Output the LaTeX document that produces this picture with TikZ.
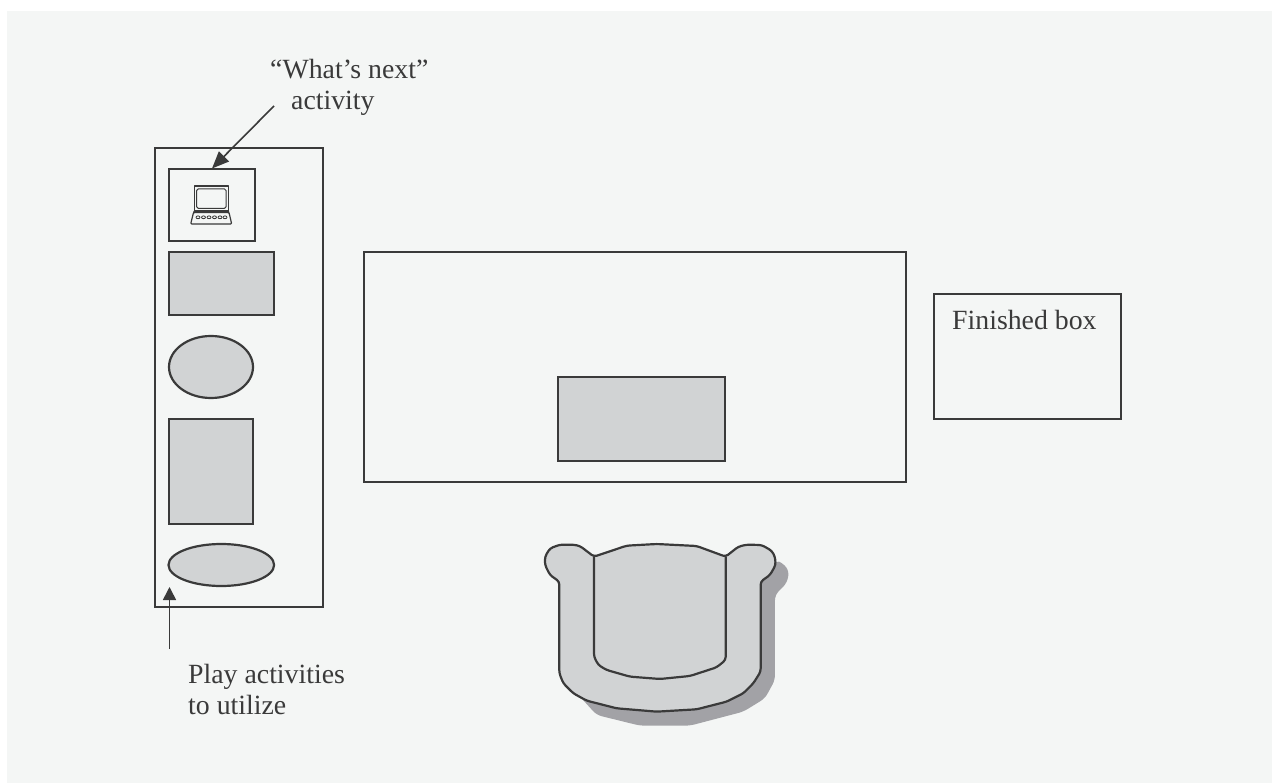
\documentclass[tikz,border=0pt]{standalone}
\usepackage{fontspec}
\setmainfont{Liberation Serif}
\usetikzlibrary{arrows.meta}
\definecolor{panel}{HTML}{F4F6F5}
\definecolor{fillgrey}{HTML}{D1D3D4}
\definecolor{shadowgrey}{HTML}{A2A2A6}
\definecolor{ink}{HTML}{3A3A3A}
\tikzset{
  outline/.style={draw=ink,line width=2.2pt,outer sep=0pt,inner sep=0pt,anchor=north west},
  solidshape/.style={outline,fill=fillgrey},
  solidround/.style={draw=ink,line width=2.2pt,fill=fillgrey},
  label/.style={font=\fontsize{27.8}{31.5}\selectfont,text=ink,inner sep=0pt,align=left},
  pointer/.style={draw=ink,line width=1.6pt},
  icon/.style={draw=ink,line width=1pt,line join=round}
}
\begin{document}
\begin{tikzpicture}[x=1pt,y=-1pt]
\useasboundingbox (0,0) rectangle (1272,783);
\fill[panel] (7,11) rectangle (1272,783);
% containers
\node[outline,minimum width=167.5pt,minimum height=459pt] (shelf) at (155.3,147.7) {};
\node[outline,minimum width=86pt,minimum height=72pt] (top) at (169,169) {};
\node[solidshape,minimum width=105pt,minimum height=63pt] (r1) at (169,252) {};
\draw[solidround] (211,367) ellipse [x radius=42, y radius=31];
\node[solidshape,minimum width=84pt,minimum height=105pt] (r2) at (169,419) {};
\draw[solidround] (221.3,565) ellipse [x radius=52.8, y radius=21];
\node[outline,minimum width=542pt,minimum height=230pt] (table) at (364,252) {};
\node[solidshape,minimum width=167pt,minimum height=84pt] (work) at (558,377) {};
\node[outline,minimum width=187.6pt,minimum height=125pt] (done) at (933.6,294) {};
% computer icon
\draw[icon,line width=1.2pt] (194.3,186) rectangle (228.3,211);
\draw[icon,rounded corners=1.5pt] (196.7,189) rectangle (226,208.3);
\draw[icon] (194.3,211) -- (193.5,212.5) -- (229,212.5) -- (228.3,211);
\draw[icon,line width=1.2pt,rounded corners=1pt] (193.5,212.5) -- (229,212.5) -- (231.7,224) -- (190.7,224) -- cycle;
\foreach \kx in {198,203.5,209,214.5,220,225}
  \draw[ink,line width=.8pt] (\kx,217.3) ellipse [x radius=2, y radius=1.4];
% chair (traced, one unit = 1/3 px)
\begin{scope}[shift={(530,530)},x=.3333pt,y=-.3333pt]
\fill[shadowgrey,rounded corners=5pt] (150,500) -- (200,555) -- (330,587) -- (480,587) -- (640,545)
  -- (705,505) -- (735,450) -- (735,195) -- (770,160) -- (778,125) -- (760,100) -- (735,90) -- (600,300) -- cycle;
\draw[solidround,line join=round,rounded corners=3pt] (192,80) -- (150,48) -- (130,44) -- (90,44) -- (60,55) -- (45,80) -- (45,105)
  -- (60,135) -- (88,155) -- (88,430) -- (100,460) -- (130,490) -- (170,512) -- (260,535) -- (380,545)
  -- (500,538) -- (590,515) -- (640,490) -- (670,460) -- (692,425) -- (692,155) -- (720,135) -- (737,105)
  -- (735,80) -- (725,62) -- (695,45) -- (650,44) -- (625,50) -- (587,80) -- (500,48) -- (380,42)
  -- (290,47) -- cycle;
\draw[ink,line width=2.2pt,line join=round,rounded corners=3pt] (192,80) -- (192,380) -- (205,405) -- (230,420) -- (300,440)
  -- (390,447) -- (480,438) -- (560,412) -- (587,390) -- (587,80);
\end{scope}
% text
\node[label,anchor=north west] (next) at (270,59) {“What’s next”\\\hspace*{21pt}activity};
\node[label,anchor=north west] (play) at (188,664) {Play activities\\to utilize};
\node[label,anchor=base west] (fin) at (952,330) {Finished box};
% connectors
\coordinate (nextfrom) at (274,106);
\coordinate (nextto) at (212,168.5);
\draw[pointer,-{Triangle[length=17pt,width=14pt]}] (nextfrom) -- (nextto);
\coordinate (playfrom) at (169.5,649);
\coordinate (playto) at (169.5,587);
\draw[pointer,-{Triangle[length=13pt,width=13pt]}] (playfrom) -- (playto);
\end{tikzpicture}
\end{document}
